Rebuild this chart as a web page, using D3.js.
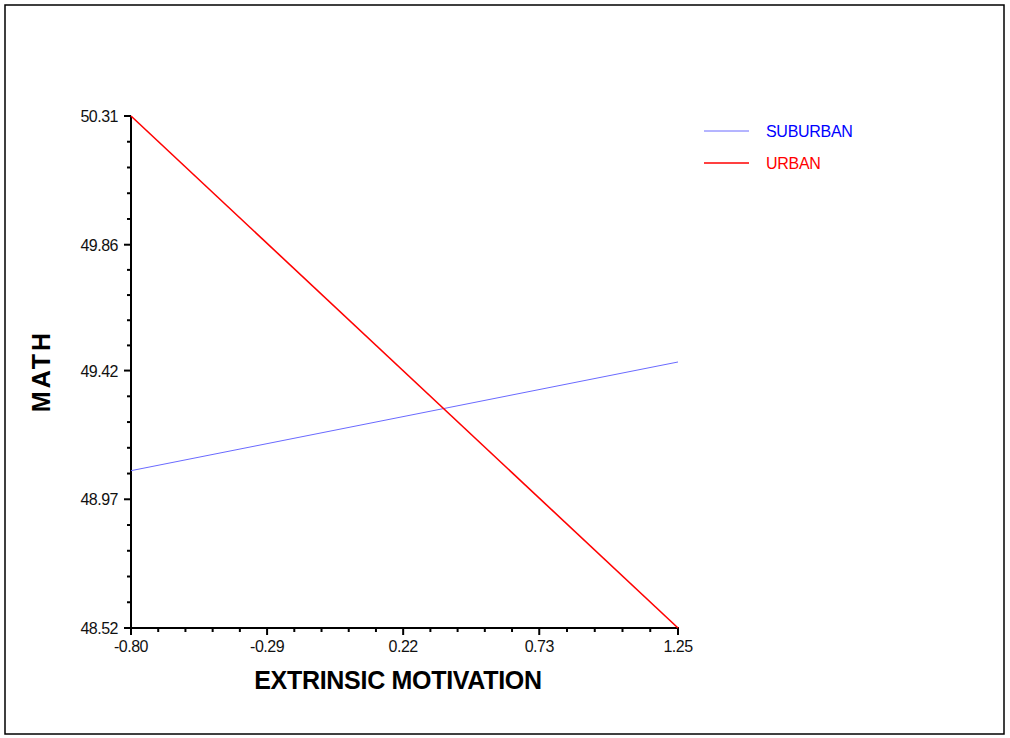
<!DOCTYPE html>
<html>
<head>
<meta charset="utf-8">
<script src="https://cdn.jsdelivr.net/npm/d3@7"></script>
<style>
  body { margin: 0; background: #fff; }
  text { font-family: "Liberation Sans", Arial, sans-serif; }
</style>
</head>
<body>
<div id="chart"></div>
<script>
// chart data
const series = ["SUBURBAN", "URBAN"];
const colors = ["#6a6aff", "#ff0000"];
const xEnds = [-0.80, 1.25];
const suburbanVals = [49.07, 49.45];
const urbanVals = [50.31, 48.52];
const xTicks = ["-0.80", "-0.29", "0.22", "0.73", "1.25"];
const yTicks = ["48.52", "48.97", "49.42", "49.86", "50.31"];

const W = 1010, H = 738;
const MARGIN = {TOP: 116, LEFT: 131, RIGHT: 678, BOTTOM: 628};

const svg = d3.select("#chart").append("svg")
  .attr("width", W)
  .attr("height", H);

// outer frame
svg.append("rect")
  .attr("x", 5).attr("y", 5)
  .attr("width", 999).attr("height", 729)
  .attr("fill", "none")
  .attr("stroke", "#000")
  .attr("stroke-width", 1.5);

const x = d3.scaleLinear()
  .domain([+xTicks[0], +xTicks[xTicks.length - 1]])
  .range([MARGIN.LEFT, MARGIN.RIGHT]);
const y = d3.scaleLinear()
  .domain([+yTicks[0], +yTicks[yTicks.length - 1]])
  .range([MARGIN.BOTTOM, MARGIN.TOP]);

// minor ticks: 5 subdivisions between each pair of majors
const xMinor = [], yMinor = [];
for (let i = 0; i < xTicks.length - 1; i++) {
  const a = x(+xTicks[i]), b = x(+xTicks[i + 1]);
  for (let k = 1; k < 5; k++) xMinor.push(a + (b - a) * k / 5);
}
for (let i = 0; i < yTicks.length - 1; i++) {
  const a = y(+yTicks[i]), b = y(+yTicks[i + 1]);
  for (let k = 1; k < 5; k++) yMinor.push(a + (b - a) * k / 5);
}

const axes = svg.append("g").attr("stroke", "#000");

axes.append("line")
  .attr("x1", MARGIN.LEFT).attr("x2", MARGIN.LEFT)
  .attr("y1", MARGIN.TOP).attr("y2", MARGIN.BOTTOM + 1)
  .attr("stroke-width", 2);
axes.append("line")
  .attr("x1", MARGIN.LEFT - 1).attr("x2", MARGIN.RIGHT + 1)
  .attr("y1", MARGIN.BOTTOM).attr("y2", MARGIN.BOTTOM)
  .attr("stroke-width", 2);

axes.selectAll(".xmaj")
  .data(xTicks)
  .enter()
  .append("line")
    .attr("x1", d => x(+d)).attr("x2", d => x(+d))
    .attr("y1", MARGIN.BOTTOM).attr("y2", MARGIN.BOTTOM + 7)
    .attr("stroke-width", 2);
axes.selectAll(".xmin")
  .data(xMinor)
  .enter()
  .append("line")
    .attr("x1", d => d).attr("x2", d => d)
    .attr("y1", MARGIN.BOTTOM).attr("y2", MARGIN.BOTTOM + 4)
    .attr("stroke-width", 2);
axes.selectAll(".ymaj")
  .data(yTicks)
  .enter()
  .append("line")
    .attr("x1", MARGIN.LEFT - 7).attr("x2", MARGIN.LEFT)
    .attr("y1", d => y(+d)).attr("y2", d => y(+d))
    .attr("stroke-width", 2);
axes.selectAll(".ymin")
  .data(yMinor)
  .enter()
  .append("line")
    .attr("x1", MARGIN.LEFT - 4).attr("x2", MARGIN.LEFT + 1)
    .attr("y1", d => d).attr("y2", d => d)
    .attr("stroke-width", 2);

svg.selectAll(".xlab")
  .data(xTicks)
  .enter()
  .append("text")
    .attr("x", d => x(+d))
    .attr("y", MARGIN.BOTTOM + 24)
    .attr("text-anchor", "middle")
    .attr("font-size", "16px")
    .attr("letter-spacing", "-0.5px")
    .attr("fill", "#111")
    .text(d => d);

svg.selectAll(".ylab")
  .data(yTicks)
  .enter()
  .append("text")
    .attr("x", MARGIN.LEFT - 13)
    .attr("y", d => y(+d) + 6)
    .attr("text-anchor", "end")
    .attr("font-size", "16px")
    .attr("letter-spacing", "-0.5px")
    .attr("fill", "#111")
    .text(d => d);

// axis titles
svg.append("text")
  .attr("x", 398).attr("y", 689)
  .attr("text-anchor", "middle")
  .attr("font-size", "25px")
  .attr("font-weight", "bold")
  .attr("letter-spacing", "-0.3px")
  .text("EXTRINSIC MOTIVATION");

svg.append("text")
  .attr("transform", "translate(50,371) rotate(-90)")
  .attr("text-anchor", "middle")
  .attr("font-size", "25px")
  .attr("font-weight", "bold")
  .attr("letter-spacing", "3px")
  .text("MATH");

// lines
const values = [suburbanVals, urbanVals];
const line = d3.line().x(d => x(d[0])).y(d => y(d[1]));
series.forEach((s, i) => {
  svg.append("path")
    .attr("d", line(xEnds.map((xv, j) => [xv, values[i][j]])))
    .attr("fill", "none")
    .attr("stroke", colors[i])
    .attr("stroke-width", i === 0 ? 1 : 1.6);
});

// legend
const legend = svg.selectAll(".leg")
  .data(series)
  .enter()
  .append("g")
    .attr("transform", (d, i) => `translate(704, ${131 + i * 32})`);
legend.append("line")
  .attr("x1", 0).attr("x2", 45)
  .attr("stroke", (d, i) => colors[i])
  .attr("stroke-width", (d, i) => i === 0 ? 1 : 1.6);
legend.append("text")
  .attr("x", 62).attr("y", 6)
  .attr("font-size", "16px")
  .attr("letter-spacing", "-0.3px")
  .attr("fill", (d, i) => i === 0 ? "#0000ff" : "#ff0000")
  .text(d => d);
</script>
</body>
</html>
